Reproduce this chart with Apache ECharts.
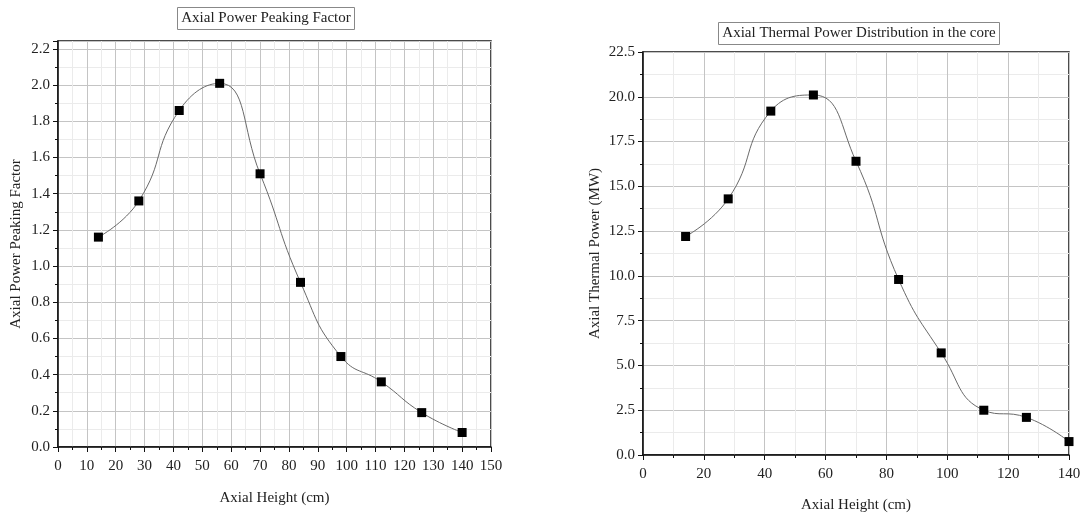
<!DOCTYPE html>
<html><head><meta charset="utf-8">
<script src="https://cdn.jsdelivr.net/npm/echarts@6/dist/echarts.min.js"></script>
<style>html,body{margin:0;padding:0;background:#fff}#c{width:1091px;height:518px}</style>
</head><body><div id="c"></div>
<script>
const heights = [14, 28, 42, 56, 70, 84, 98, 112, 126, 140];
const peakingFactor = [1.16, 1.36, 1.86, 2.01, 1.51, 0.91, 0.50, 0.36, 0.19, 0.08];
const thermalPower = [12.2, 14.3, 19.2, 20.1, 16.4, 9.8, 5.7, 2.5, 2.1, 0.75];
const titleLeft = 'Axial Power Peaking Factor';
const titleRight = 'Axial Thermal Power Distribution in the core';
const yNameLeft = 'Axial Power Peaking Factor';
const yNameRight = 'Axial Thermal Power (MW)';
const xName = 'Axial Height (cm)';

const FONT = 'Liberation Serif';
const txt = {fontFamily: FONT, color: '#222', fontSize: 15};

function mkX(idx, max, interval) {
  return {
    gridIndex: idx, type: 'value', min: 0, max: max, interval: interval,
    name: xName, nameLocation: 'middle', nameGap: idx === 0 ? 44 : 43,
    nameTextStyle: {fontFamily: FONT, color: '#222', fontSize: 15},
    axisLine: {show: true, onZero: false, lineStyle: {color: '#111', width: 1.5}},
    axisTick: {show: true, inside: false, length: 5, lineStyle: {color: '#111'}},
    minorTick: {show: true, splitNumber: 2, length: 3, lineStyle: {color: '#111'}},
    axisLabel: Object.assign({margin: 12}, txt),
    splitLine: {show: true, lineStyle: {color: '#c4c4c4', width: 1}},
    minorSplitLine: {show: true, lineStyle: {color: '#ebebeb', width: 1}}
  };
}
function mkY(idx, max, interval, name, gap, fmt) {
  return {
    gridIndex: idx, type: 'value', min: 0, max: max, interval: interval,
    name: name, nameLocation: 'middle', nameGap: gap, nameRotate: 90,
    nameTextStyle: {fontFamily: FONT, color: '#222', fontSize: 15},
    axisLine: {show: true, lineStyle: {color: '#111', width: 1.5}},
    axisTick: {show: true, inside: false, length: 5, lineStyle: {color: '#111'}},
    minorTick: {show: true, splitNumber: 2, length: 3, lineStyle: {color: '#111'}},
    axisLabel: Object.assign({margin: 8, formatter: fmt}, txt),
    splitLine: {show: true, lineStyle: {color: '#c4c4c4', width: 1}},
    minorSplitLine: {show: true, lineStyle: {color: '#ebebeb', width: 1}}
  };
}
const fmtL = v => (Math.abs(v / 0.2 - Math.round(v / 0.2)) < 1e-6) ? v.toFixed(1) : '';
const fmtR = v => v.toFixed(1);

const chart = echarts.init(document.getElementById('c'), null, {renderer: 'canvas'});
chart.setOption({
  backgroundColor: '#fff',
  animation: false,
  title: [
    {text: titleLeft, left: 262, top: 7, textAlign: 'center',
     borderColor: '#888', borderWidth: 1, padding: [4, 4],
     textStyle: {fontFamily: FONT, fontWeight: 'normal', fontSize: 15, color: '#222'}},
    {text: titleRight, left: 855, top: 22, textAlign: 'center',
     borderColor: '#888', borderWidth: 1, padding: [4, 4],
     textStyle: {fontFamily: FONT, fontWeight: 'normal', fontSize: 15, color: '#222'}}
  ],
  grid: [
    {left: 58, right: 600, top: 41, bottom: 71, show: true, borderColor: '#111', borderWidth: 1.5, backgroundColor: 'transparent'},
    {left: 643, right: 22, top: 52, bottom: 60, show: true, borderColor: '#111', borderWidth: 1.5, backgroundColor: 'transparent'}
  ],
  xAxis: [mkX(0, 150, 10), mkX(1, 140, 20)],
  yAxis: [
    mkY(0, 2.244, 0.2, yNameLeft, 34, fmtL),
    mkY(1, 22.5, 2.5, yNameRight, 40, fmtR)
  ],
  series: [
    {type: 'line', xAxisIndex: 0, yAxisIndex: 0, smooth: 0.5,
     data: heights.map((h, i) => [h, peakingFactor[i]]),
     symbol: 'rect', symbolSize: 9,
     itemStyle: {color: '#000'}, lineStyle: {color: '#6a6a6a', width: 1}},
    {type: 'line', xAxisIndex: 1, yAxisIndex: 1, smooth: 0.5,
     data: heights.map((h, i) => [h, thermalPower[i]]),
     symbol: 'rect', symbolSize: 9, clip: false,
     itemStyle: {color: '#000'}, lineStyle: {color: '#6a6a6a', width: 1}}
  ]
});
</script></body></html>
